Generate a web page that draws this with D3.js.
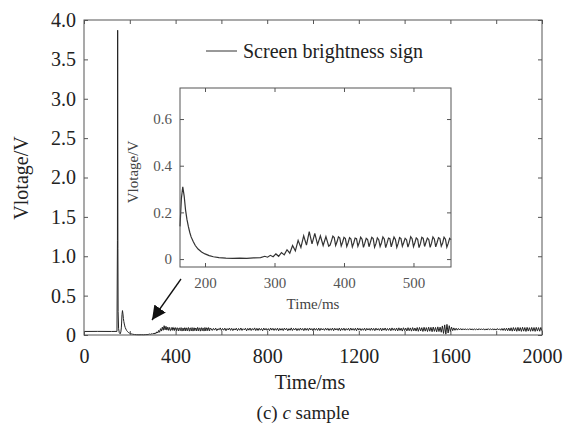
<!DOCTYPE html>
<html>
<head>
<meta charset="utf-8">
<script src="https://cdn.jsdelivr.net/npm/d3@7"></script>
<style>
  body { margin: 0; background: #fff; }
  svg, svg text { font-family: "Liberation Serif", "Times New Roman", serif; }
  .axis path { display: none; }
  .axis line { stroke: #555; }
  .main-axis text { font-size: 20px; fill: #222; font-family: "Liberation Serif", serif; }
  .inset-axis text { font-size: 15px; fill: #555; font-family: "Liberation Serif", serif; }
</style>
</head>
<body>
<svg width="564" height="429"></svg>
<script>
// Signal before the inset window: [time ms, voltage V]
const preSpike = [
  [0, 0.045], [60, 0.046], [120, 0.045], [144, 0.046], [146, 1.2], [147, 3.87],
  [148, 1.1], [149, 0.3], [151, 0.08], [154, 0.03], [158, 0.015], [161, 0.04], [163, 0.09]
];

// Start of the zoomed window: [time ms, voltage V]
const insetEarly = [
  [164, 0.14], [166, 0.26], [168, 0.31], [170, 0.27], [172, 0.21], [174, 0.17],
  [176, 0.14], [178, 0.115], [180, 0.095], [183, 0.075], [186, 0.058], [190, 0.043],
  [195, 0.03], [200, 0.022], [206, 0.015], [212, 0.01], [220, 0.006], [230, 0.004],
  [240, 0.003], [250, 0.004], [260, 0.003], [270, 0.005], [280, 0.006], [286, 0.012],
  [290, 0.008], [294, 0.016], [298, 0.01], [302, 0.022], [306, 0.012], [310, 0.028],
  [314, 0.018], [318, 0.04], [322, 0.025], [326, 0.058], [330, 0.035], [334, 0.08],
  [338, 0.05], [342, 0.1], [346, 0.06], [350, 0.118], [354, 0.065], [358, 0.11],
  [362, 0.062], [366, 0.1], [370, 0.058], [374, 0.096], [378, 0.055]
];

// Steady ripple inside the zoomed window, every 2 ms from 380 ms
const steadyStart = 380;
const steadyStep = 2;
const steadyValues = [
  0.060,0.078,0.098,0.092, 0.058,0.074,0.095,0.090, 0.056,0.072,0.093,0.088,
  0.054,0.070,0.092,0.086, 0.052,0.069,0.090,0.087, 0.055,0.071,0.094,0.085,
  0.050,0.068,0.089,0.084, 0.053,0.072,0.093,0.088, 0.051,0.066,0.091,0.083,
  0.054,0.070,0.095,0.086, 0.049,0.068,0.090,0.087, 0.052,0.073,0.094,0.084,
  0.050,0.067,0.092,0.088, 0.055,0.071,0.089,0.083, 0.051,0.069,0.096,0.087,
  0.053,0.070,0.091,0.085, 0.049,0.066,0.093,0.089, 0.054,0.072,0.090,0.084,
  0.050,0.068,0.095,0.086, 0.052,0.071,0.092,0.088, 0.055,0.069,0.094,0.085,
  0.051,0.067,0.089,0.083
];

// Rest of the trace, every 5 ms from 560 ms
const tailStart = 560;
const tailStep = 5;
const tailValues = [
  0.058,0.084,0.062,0.088,0.055,0.080,0.066,0.090,0.057,0.083,0.061,0.087,0.054,0.082,0.064,0.089,0.059,0.085,0.056,0.081,
  0.063,0.087,0.055,0.083,0.060,0.089,0.058,0.080,0.065,0.086,0.053,0.084,0.061,0.088,0.057,0.082,0.062,0.090,0.056,0.085,
  0.057,0.086,0.061,0.082,0.054,0.088,0.063,0.084,0.059,0.081,0.055,0.089,0.062,0.085,0.058,0.083,0.060,0.087,0.053,0.084,
  0.061,0.083,0.056,0.088,0.064,0.085,0.054,0.081,0.060,0.090,0.057,0.084,0.063,0.086,0.055,0.082,0.059,0.088,0.062,0.083,
  0.055,0.087,0.060,0.084,0.057,0.089,0.063,0.082,0.054,0.086,0.061,0.083,0.058,0.088,0.056,0.085,0.064,0.081,0.059,0.087,
  0.062,0.085,0.057,0.082,0.060,0.088,0.055,0.086,0.063,0.083,0.058,0.089,0.054,0.084,0.061,0.087,0.057,0.082,0.062,0.086,
  0.056,0.088,0.061,0.083,0.059,0.086,0.054,0.089,0.062,0.084,0.057,0.081,0.060,0.087,0.055,0.085,0.063,0.083,0.058,0.088,
  0.060,0.084,0.055,0.087,0.062,0.082,0.058,0.088,0.053,0.085,0.061,0.089,0.056,0.083,0.059,0.086,0.054,0.090,0.060,0.084,
  0.055,0.089,0.052,0.091,0.058,0.087,0.050,0.092,0.056,0.088,0.051,0.093,0.054,0.090,0.049,0.094,0.053,0.089,0.050,0.095,
  0.047,0.096,0.051,0.093,0.045,0.098,0.049,0.094,0.044,0.099,0.048,0.097,0.042,0.101,0.046,0.096,0.040,0.103,0.044,0.100,
  0.035,0.115,0.020,0.128,0.010,0.135,0.025,0.118,0.045,0.100,0.055,0.090,0.060,0.086,0.062,0.083,0.064,0.082,0.063,0.080,
  0.065,0.080,0.063,0.078,0.066,0.081,0.064,0.079,0.062,0.080,0.065,0.078,0.063,0.081,0.066,0.079,0.064,0.080,0.062,0.078,
  0.064,0.081,0.066,0.079,0.063,0.080,0.065,0.078,0.062,0.082,0.064,0.079,0.060,0.083,0.058,0.085,0.056,0.087,0.054,0.089,
  0.052,0.092,0.049,0.095,0.051,0.093,0.047,0.097,0.050,0.094,0.046,0.098,0.049,0.095,0.045,0.097,0.050,0.093,0.047,0.096,
  0.049,0.095,0.046,0.097,0.050,0.094,0.048,0.096,0.052
];

// Tick values
const mainXTicks = [0, 200, 400, 600, 800, 1000, 1200, 1400, 1600, 1800, 2000];
const mainYTicks = [0, 0.5, 1.0, 1.5, 2.0, 2.5, 3.0, 3.5, 4.0];
const insetXTicks = [200, 300, 400, 500];
const insetYTicks = [0, 0.2, 0.4, 0.6];

const insetSignal = insetEarly
  .concat(steadyValues.map((v, i) => [steadyStart + i * steadyStep, v]));
const fullSignal = preSpike
  .concat(insetSignal)
  .concat(tailValues.map((v, i) => [tailStart + i * tailStep, v]));

const svg = d3.select("svg");

// ---- main plot ----
const x = d3.scaleLinear().domain([0, 2000]).range([84, 542]);
const y = d3.scaleLinear().domain([0, 4]).range([335, 20]);

svg.append("path")
  .datum(fullSignal)
  .attr("fill", "none")
  .attr("stroke", "#222")
  .attr("stroke-width", 1)
  .attr("d", d3.line().x(d => x(d[0])).y(d => y(d[1])));

const xFmt = d => (d % 400 === 0 ? d : "");
const yFmt = d => (d === 0 ? "0" : d.toFixed(1));

function axisGroup(cls, tr) {
  return svg.append("g").attr("class", cls).attr("transform", tr);
}

axisGroup("axis main-axis", "translate(0,335)")
  .call(d3.axisBottom(x).tickValues(mainXTicks).tickSize(-4).tickPadding(14).tickFormat(xFmt));
axisGroup("axis", "translate(0,20)")
  .call(d3.axisTop(x).tickValues(mainXTicks).tickSize(-4).tickFormat(""));
axisGroup("axis main-axis", "translate(84,0)")
  .call(d3.axisLeft(y).tickValues(mainYTicks).tickSize(-4).tickPadding(8).tickFormat(yFmt));
axisGroup("axis", "translate(542,0)")
  .call(d3.axisRight(y).tickValues(mainYTicks).tickSize(-4).tickFormat(""));
svg.selectAll(".axis").attr("font-family", null);

svg.append("rect")
  .attr("x", 84).attr("y", 20).attr("width", 458).attr("height", 315)
  .attr("fill", "none").attr("stroke", "#555");

svg.append("text")
  .attr("transform", "translate(28,178) rotate(-90)")
  .attr("text-anchor", "middle")
  .attr("font-size", 20).attr("fill", "#222")
  .text("Vlotage/V");

svg.append("text")
  .attr("x", 310).attr("y", 389)
  .attr("text-anchor", "middle")
  .attr("font-size", 20).attr("fill", "#222")
  .text("Time/ms");

const caption = svg.append("text")
  .attr("x", 303).attr("y", 419)
  .attr("text-anchor", "middle")
  .attr("font-size", 19).attr("fill", "#222");
caption.append("tspan").text("(c) ");
caption.append("tspan").attr("font-style", "italic").text("c");
caption.append("tspan").text(" sample");

// legend
svg.append("line")
  .attr("x1", 206).attr("x2", 237).attr("y1", 51).attr("y2", 51)
  .attr("stroke", "#333");
svg.append("text")
  .attr("x", 243).attr("y", 58)
  .attr("font-size", 20).attr("fill", "#222")
  .text("Screen brightness sign");

// arrow pointing at the zoomed region
svg.append("defs").append("marker")
  .attr("id", "head")
  .attr("viewBox", "0 0 10 10")
  .attr("refX", 10).attr("refY", 5)
  .attr("markerWidth", 14).attr("markerHeight", 14)
  .attr("markerUnits", "userSpaceOnUse")
  .attr("orient", "auto")
  .append("path").attr("d", "M0,0 L10,5 L0,10 z").attr("fill", "#111");
svg.append("line")
  .attr("x1", 181).attr("y1", 279).attr("x2", 152).attr("y2", 320)
  .attr("stroke", "#111").attr("stroke-width", 1.3)
  .attr("marker-end", "url(#head)");

// ---- inset ----
const xi = d3.scaleLinear().domain([164, 554]).range([180, 451]);
const yi = d3.scaleLinear().domain([-0.034, 0.733]).range([267, 88]);

svg.append("rect")
  .attr("x", 180).attr("y", 88).attr("width", 271).attr("height", 179)
  .attr("fill", "#fff");

svg.append("path")
  .datum(insetSignal)
  .attr("fill", "none")
  .attr("stroke", "#333")
  .attr("stroke-width", 1.2)
  .attr("d", d3.line().x(d => xi(d[0])).y(d => yi(d[1])));

axisGroup("axis inset-axis", "translate(0,267)")
  .call(d3.axisBottom(xi).tickValues(insetXTicks).tickSize(-4).tickPadding(10));
axisGroup("axis", "translate(0,88)")
  .call(d3.axisTop(xi).tickValues(insetXTicks).tickSize(-4).tickFormat(""));
axisGroup("axis inset-axis", "translate(180,0)")
  .call(d3.axisLeft(yi).tickValues(insetYTicks).tickSize(-4).tickPadding(8).tickFormat(d => (d === 0 ? "0" : d.toFixed(1))));
axisGroup("axis", "translate(451,0)")
  .call(d3.axisRight(yi).tickValues(insetYTicks).tickSize(-4).tickFormat(""));
svg.selectAll(".axis").attr("font-family", null);

svg.append("rect")
  .attr("x", 180).attr("y", 88).attr("width", 271).attr("height", 179)
  .attr("fill", "none").attr("stroke", "#555");

svg.append("text")
  .attr("transform", "translate(138,172) rotate(-90)")
  .attr("text-anchor", "middle")
  .attr("font-size", 15).attr("fill", "#444")
  .text("Vlotage/V");

svg.append("text")
  .attr("x", 313).attr("y", 309)
  .attr("text-anchor", "middle")
  .attr("font-size", 15).attr("fill", "#444")
  .text("Time/ms");
</script>
</body>
</html>
